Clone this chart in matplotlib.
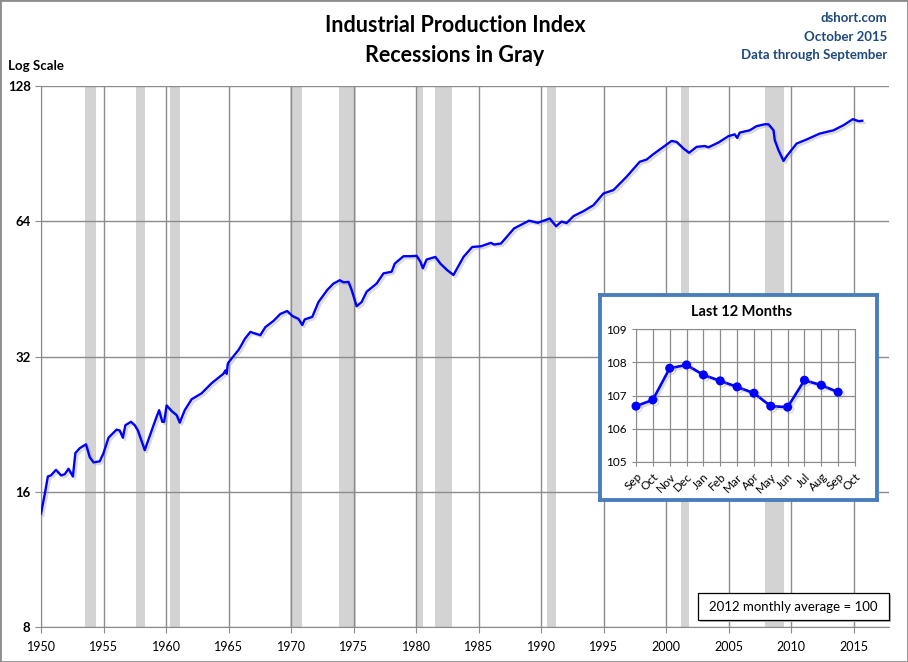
import matplotlib
matplotlib.use('Agg')
import matplotlib.pyplot as plt
import matplotlib.patheffects as pe
from matplotlib.patches import Rectangle
from matplotlib.ticker import FixedLocator, NullLocator

plt.rcParams['font.family'] = ['Lato', 'DejaVu Sans']

# ---- main series (decimal year, index value) ----
years = [1950.0, 1950.3, 1950.55, 1950.8, 1951.2, 1951.6, 1951.9, 1952.2, 1952.55, 1952.75,
         1953.1, 1953.6, 1953.9, 1954.2, 1954.7, 1955.0, 1955.4, 1956.05, 1956.3, 1956.55,
         1956.75, 1957.2, 1957.5, 1957.75, 1958.3, 1958.85, 1959.15, 1959.45, 1959.7, 1959.85,
         1960.05, 1960.45, 1960.85, 1961.1, 1961.5, 1962.05, 1962.85, 1963.65, 1964.6, 1964.75,
         1964.85, 1964.95, 1965.8, 1965.95, 1966.3, 1966.75, 1967.0, 1967.55, 1967.95, 1968.6,
         1969.15, 1969.7, 1970.1, 1970.6, 1970.9, 1971.1, 1971.7, 1972.2, 1972.9, 1973.4,
         1973.9, 1974.2, 1974.6, 1974.85, 1975.25, 1975.65, 1976.05, 1976.85, 1977.4, 1978.05,
         1978.3, 1979.0, 1979.55, 1980.05, 1980.35, 1980.55, 1980.85, 1981.55, 1981.95, 1982.5,
         1983.0, 1983.8, 1984.5, 1985.2, 1986.0, 1986.25, 1986.8, 1987.85, 1989.05, 1989.75,
         1990.7, 1991.2, 1991.65, 1992.05, 1992.6, 1993.4, 1994.2, 1995.0, 1995.8, 1996.85,
         1997.9, 1998.45, 1999.0, 1999.8, 2000.45, 2000.85, 2001.4, 2001.85, 2002.45, 2003.1,
         2003.4, 2004.2, 2005.0, 2005.5, 2005.7, 2005.9, 2006.7, 2007.25, 2007.9, 2008.2,
         2008.6, 2008.7, 2009.0, 2009.4, 2009.65, 2010.45, 2011.25, 2012.3, 2013.4, 2014.2,
         2014.95, 2015.4, 2015.7]
ip_index = [14.3, 15.8, 17.3, 17.4, 17.9, 17.4, 17.5, 18.0, 17.3, 19.5,
            20.0, 20.4, 19.1, 18.6, 18.7, 19.5, 21.1, 22.0, 21.9, 21.1,
            22.5, 22.9, 22.5, 21.9, 19.8, 21.9, 23.1, 24.3, 22.9, 22.9,
            24.9, 24.2, 23.7, 22.8, 24.3, 25.7, 26.5, 27.9, 29.3, 29.8,
            29.3, 30.9, 33.1, 33.6, 35.0, 36.3, 36.1, 35.7, 37.2, 38.4,
            39.8, 40.4, 39.4, 38.8, 37.6, 38.7, 39.2, 42.3, 45.0, 46.5,
            47.3, 46.8, 46.9, 45.0, 41.4, 42.3, 44.6, 46.5, 49.0, 49.4,
            51.5, 53.5, 53.5, 53.6, 52.0, 50.3, 52.6, 53.3, 51.5, 49.8,
            48.6, 53.3, 56.1, 56.3, 57.3, 56.8, 57.1, 61.7, 64.2, 63.5,
            64.9, 62.4, 63.9, 63.4, 65.7, 67.4, 69.5, 73.8, 75.1, 80.4,
            86.8, 87.8, 90.3, 93.7, 96.6, 96.1, 92.9, 90.9, 93.7, 94.1,
            93.5, 95.8, 99.0, 99.9, 98.1, 100.8, 102.0, 104.2, 105.2, 105.2,
            102.0, 97.0, 92.1, 87.2, 89.3, 95.3, 97.3, 100.3, 102.0, 104.7,
            108.0, 106.9, 107.1]

rec_start = [1953.5, 1957.6, 1960.29, 1969.92, 1973.83, 1980.0, 1981.5, 1990.5, 2001.17, 2007.92]
rec_end = [1954.37, 1958.29, 1961.12, 1970.87, 1975.17, 1980.54, 1982.87, 1991.21, 2001.87, 2009.46]

y_ticks = [8, 16, 32, 64, 128]
x_ticks = list(range(1950, 2020, 5))

# ---- inset ----
months = ['Sep', 'Oct', 'Nov', 'Dec', 'Jan', 'Feb', 'Mar', 'Apr', 'May', 'Jun', 'Jul', 'Aug', 'Sep', 'Oct']
last12 = [106.68, 106.87, 107.82, 107.92, 107.62, 107.44, 107.26, 107.07, 106.68, 106.65, 107.46, 107.31, 107.10]
inset_yticks = [105, 106, 107, 108, 109]

W, H = 908, 662
fig = plt.figure(figsize=(W / 100, H / 100), dpi=100)
fig.patch.set_facecolor('white')

def fx(px):
    return px / W

def fy(py):
    return 1 - py / H

grid_c = '#8c8c8c'
ax = fig.add_axes([fx(41), fy(627), fx(889) - fx(41), fy(86) - fy(627)])
ax.set_yscale('log', base=2)
ax.set_ylim(8, 128)
ax.set_xlim(1950, 2017.84)
for s, e in zip(rec_start, rec_end):
    ax.axvspan(s, e, color='#d3d3d3', lw=0, zorder=0.5)
ax.yaxis.set_major_locator(FixedLocator(y_ticks))
ax.yaxis.set_minor_locator(NullLocator())
ax.set_yticklabels([str(v) for v in y_ticks], fontsize=9.5, fontweight='bold')
ax.xaxis.set_major_locator(FixedLocator(x_ticks))
ax.set_xticklabels([str(v) for v in x_ticks], fontsize=9)
ax.grid(True, color=grid_c, lw=1.0, zorder=0.8)
ax.set_axisbelow(True)
for side in ['top', 'right']:
    ax.spines[side].set_visible(False)
for side in ['left', 'bottom']:
    ax.spines[side].set_color(grid_c)
ax.tick_params(axis='both', colors=grid_c, length=4, labelcolor='black')
ax.tick_params(axis='x', pad=6)
ax.plot(years, ip_index, color='#0000ff', lw=1.7, zorder=3,
        path_effects=[pe.SimpleLineShadow(offset=(1.5, -1.5), shadow_color='#999999', alpha=0.35),
                      pe.Normal()])

# titles
fig.text(fx(455), fy(25), 'Industrial Production Index', ha='center', va='center',
         fontsize=15.5, fontweight='bold')
fig.text(fx(455), fy(55), 'Recessions in Gray', ha='center', va='center',
         fontsize=15.5, fontweight='bold')
src_c = '#1f497d'
fig.text(fx(887), fy(18), 'dshort.com', ha='right', va='center', fontsize=9.5,
         fontweight='bold', color=src_c)
fig.text(fx(887), fy(37), 'October 2015', ha='right', va='center', fontsize=9.5,
         fontweight='bold', color=src_c)
fig.text(fx(887), fy(55), 'Data through September', ha='right', va='center', fontsize=9.5,
         fontweight='bold', color=src_c)
fig.text(fx(8), fy(66), 'Log Scale', ha='left', va='center', fontsize=9.5, fontweight='bold')

# note box
fig.patches.append(Rectangle((fx(700), fy(622)), fx(889) - fx(698), fy(593) - fy(620),
                             transform=fig.transFigure, fc='#bbbbbb', ec='none', zorder=6))
fig.patches.append(Rectangle((fx(698), fy(620)), fx(889) - fx(698), fy(593) - fy(620),
                             transform=fig.transFigure, fc='white', ec='black', lw=0.9, zorder=7))
fig.text(fx(793.5), fy(607), '2012 monthly average = 100', ha='center', va='center',
         fontsize=9.5, zorder=8)

# inset frame
box = fig.add_axes([fx(600), fy(500), fx(877) - fx(600), fy(295) - fy(500)], zorder=4)
box.set_xticks([])
box.set_yticks([])
box.set_facecolor('white')
for sp in box.spines.values():
    sp.set_color('#4a7ebb')
    sp.set_linewidth(2.8)
box.text(0.51, 0.915, 'Last 12 Months', transform=box.transAxes, ha='center', va='center',
         fontsize=10.5, fontweight='bold')

ins = fig.add_axes([fx(636), fy(462), fx(855) - fx(636), fy(329) - fy(462)], zorder=5)
ins.set_facecolor('none')
ins.set_xlim(0, len(months) - 1)
ins.set_ylim(105, 109)
ins.set_yticks(inset_yticks)
ins.set_yticklabels([str(v) for v in inset_yticks], fontsize=8.5)
ins.set_xticks(range(len(months)))
ins.set_xticklabels(months, fontsize=8.5, rotation=45, ha='right', rotation_mode='anchor')
ins.grid(True, color=grid_c, lw=0.9)
ins.set_axisbelow(True)
for sp in ins.spines.values():
    sp.set_color(grid_c)
ins.tick_params(axis='both', colors=grid_c, length=3, labelcolor='black')
ins.plot(range(len(last12)), last12, color='#0000ff', lw=1.9, marker='o', ms=5.5,
         path_effects=[pe.SimpleLineShadow(offset=(1.5, -1.5), shadow_color='#999999', alpha=0.35),
                       pe.Normal()], clip_on=False, zorder=3)

# outer border
fig.patches.append(Rectangle((0, 0), 1, 1, transform=fig.transFigure, fill=False,
                             edgecolor='#8c8c8c', lw=2.0, zorder=10))

fig.savefig('out.png', dpi=100, facecolor='white')
